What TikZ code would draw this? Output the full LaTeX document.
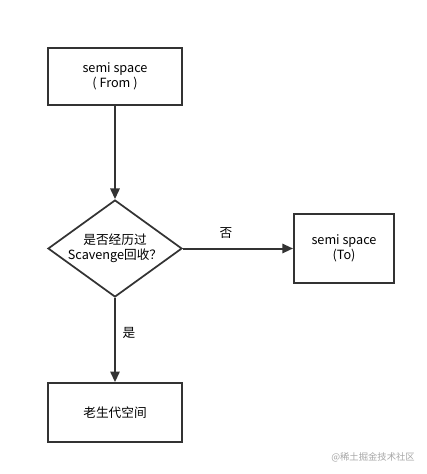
\documentclass[tikz,border=0pt]{standalone}
\usepackage{fontspec}
\setmainfont{Noto Sans CJK SC}
\usetikzlibrary{shapes.geometric,arrows.meta}

\tikzset{
  box/.style={draw=black!80,line width=1.5pt,rectangle,inner sep=0pt,align=center,
    font=\fontsize{9.5}{11.5}\selectfont},
  check/.style={draw=black!80,line width=1.3pt,diamond,inner sep=0pt,
    minimum width=100.5pt,minimum height=72.75pt},
  flow/.style={draw=black!80,line width=1.5pt,-{Triangle[length=8pt,width=7pt]}},
  tag/.style={font=\fontsize{9.5}{11.5}\selectfont,align=center}
}

\begin{document}
\begin{tikzpicture}[x=0.75pt,y=-0.75pt]
\useasboundingbox (0,0) rectangle (426,474);
\node[box,minimum width=100.5pt,minimum height=42.75pt] (from) at (115,76.5) {semi space\\( From )};
\node[check] (scav) at (115,248.5) {};
\node[tag] (scavtext) at (scav) {是否经历过\\Scavenge回收？};
\node[box,minimum width=75pt,minimum height=51.75pt] (to) at (344,248.5) {semi space\\(To)};
\node[box,minimum width=101pt,minimum height=44pt] (old) at (115,412.5) {老生代空间};
\draw[flow] (from) -- (scav);
\draw[flow] (scav) -- (to);
\draw[flow] (scav) -- (old);
\node[tag] (no) at (226,233) {否};
\node[tag] (yes) at (129,333) {是};
\node[font=\fontsize{7}{8}\selectfont,text=black!35] (mark) at (373,457) {@稀土掘金技术社区};
\end{tikzpicture}
\end{document}
